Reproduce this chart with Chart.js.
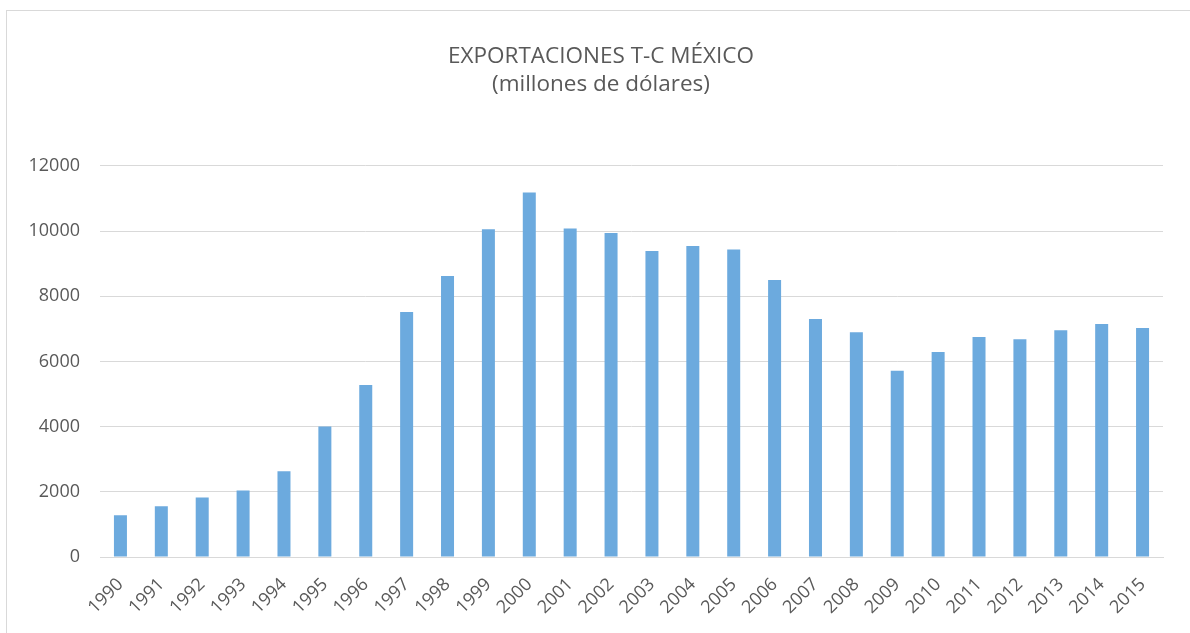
<!DOCTYPE html>
<html lang="es">
<head>
  <meta charset="UTF-8" />
  <title>Exportaciones T-C México</title>
  <script src="https://cdn.jsdelivr.net/npm/chart.js"></script>
  <style>
    html, body {
      margin: 0;
      padding: 0;
      background: #ffffff;
      overflow: hidden;
    }
    .chart-box {
      position: absolute;
      left: 6px;
      top: 10px;
      width: 1183px;
      height: 622px;
      border-left: 1px solid #d9d9d9;
      border-top: 1px solid #d9d9d9;
    }
  </style>
</head>
<body>

  <div class="chart-box"><canvas id="exportChart"></canvas></div>

  <script>
    // Años y exportaciones (millones de dólares)
    const years = ['1990', '1991', '1992', '1993', '1994', '1995', '1996', '1997', '1998',
                   '1999', '2000', '2001', '2002', '2003', '2004', '2005', '2006', '2007',
                   '2008', '2009', '2010', '2011', '2012', '2013', '2014', '2015'];
    const exports = [1280, 1556, 1822, 2037, 2631, 4003, 5273, 7515, 8621,
                     10054, 11181, 10075, 9942, 9389, 9542, 9430, 8498, 7300,
                     6891, 5713, 6287, 6747, 6676, 6952, 7147, 7024];
    const yTicks = [0, 2000, 4000, 6000, 8000, 10000, 12000];
    const titleLines = ['EXPORTACIONES T-C MÉXICO', '(millones de dólares)'];

    const textColor = '#595959';
    const gridColor = '#d9d9d9';
    const fontFamily = '"Open Sans", "DejaVu Sans", sans-serif';

    const ctx = document.getElementById('exportChart').getContext('2d');
    new Chart(ctx, {
      type: 'bar',
      data: {
        labels: years,
        datasets: [{
          label: 'Exportaciones',
          data: exports,
          backgroundColor: '#6caade',
          borderWidth: 0,
          barPercentage: 0.318,
          categoryPercentage: 1
        }]
      },
      options: {
        responsive: true,
        maintainAspectRatio: false,
        animation: false,
        layout: { padding: { top: 0, right: 0, bottom: 0, left: 5 } },
        plugins: {
          legend: { display: false },
          tooltip: { enabled: false },
          title: {
            display: true,
            text: titleLines,
            color: textColor,
            font: { family: fontFamily, size: 22.5, weight: 'normal', lineHeight: 1.24 },
            padding: { top: 32, bottom: 67 }
          }
        },
        scales: {
          x: {
            grid: { display: false, drawTicks: false },
            border: { display: true, color: gridColor, width: 1 },
            ticks: {
              color: textColor,
              font: { family: fontFamily, size: 18 },
              maxRotation: 45,
              minRotation: 45,
              autoSkip: false,
              padding: 17
            },
            afterFit: (scale) => { scale.height = 76; }
          },
          y: {
            min: 0,
            max: yTicks[yTicks.length - 1],
            afterBuildTicks: (scale) => { scale.ticks = yTicks.map(v => ({ value: v })); },
            grid: { color: gridColor, lineWidth: 1, drawTicks: false },
            border: { display: false },
            ticks: {
              color: textColor,
              font: { family: fontFamily, size: 18 },
              padding: 20,
              callback: (value) => String(value)
            },
            afterFit: (scale) => { scale.width = 88; }
          },
          // empty right-hand axis, only reserves the margin after the plot
          yRight: {
            position: 'right',
            grid: { display: false, drawTicks: false },
            border: { display: false },
            ticks: { display: false },
            afterFit: (scale) => { scale.width = 27; }
          }
        }
      }
    });
  </script>
</body>
</html>
